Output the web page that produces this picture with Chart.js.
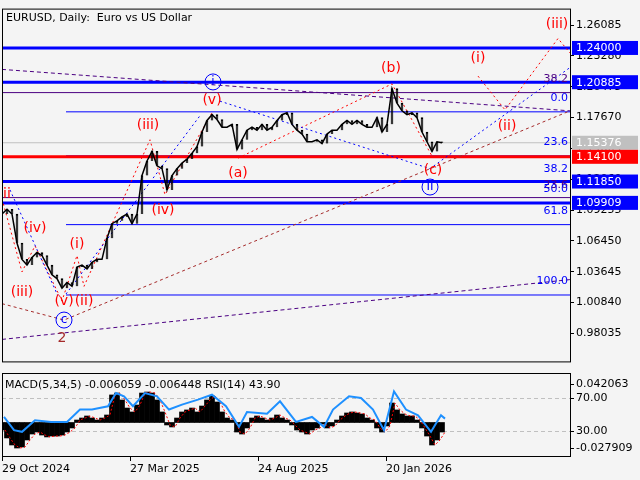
<!DOCTYPE html>
<html>
<head>
<meta charset="utf-8">
<script src="https://cdn.jsdelivr.net/npm/chart.js@4"></script>
<style>
  body { margin:0; background:#f4f4f4; width:640px; height:480px; overflow:hidden; position:relative; font-family:"DejaVu Sans",sans-serif; }
  canvas { position:absolute; left:0; }
  #main { top:0; }
  #ind { top:370px; }
</style>
</head>
<body>
<canvas id="main" width="640" height="370"></canvas>
<canvas id="ind" width="640" height="110"></canvas>
<script>
// ─── Data ─────────────────────────────────────────────────────
// x is bar offset (one unit ~ one screen column), closes sampled every 5 units
const closeStep = 5;
const closes = [1.0889,1.0933,1.0889,1.0626,1.0477,1.0425,1.0495,1.0539,1.0512,1.0425,
  1.0337,1.0302,1.0214,1.0267,1.0232,1.0407,1.0425,1.0390,1.0451,1.0477,
  1.0477,1.0670,1.0802,1.0828,1.0863,1.0889,1.0802,1.0889,1.1240,1.1372,
  1.1459,1.1328,1.1302,1.1109,1.1240,1.1302,1.1354,1.1389,1.1442,1.1503,
  1.1635,1.1740,1.1793,1.1749,1.1679,1.1679,1.1705,1.1477,1.1565,1.1652,
  1.1679,1.1652,1.1705,1.1652,1.1679,1.1740,1.1793,1.1810,1.1705,1.1652,
  1.1617,1.1547,1.1547,1.1565,1.1530,1.1617,1.1652,1.1652,1.1705,1.1740,
  1.1705,1.1740,1.1705,1.1679,1.1679,1.1766,1.1635,1.1705,1.2030,1.1898,
  1.1828,1.1793,1.1810,1.1766,1.1635,1.1547,1.1459,1.1547,1.1537];

const macdHist = [-0.0082,-0.0169,-0.0246,-0.0279,-0.0268,-0.0191,-0.0126,-0.0104,-0.0137,-0.0158,
  -0.0148,-0.0148,-0.0137,-0.0104,-0.0060,0.0027,0.0049,0.0071,0.0049,0.0027,
  0.0049,0.0082,0.0301,0.0322,0.0246,0.0158,0.0115,0.0191,0.0322,0.0333,
  0.0322,0.0246,0.0115,-0.0027,-0.0049,0.0049,0.0115,0.0137,0.0158,0.0115,
  0.0180,0.0246,0.0290,0.0224,0.0115,0.0049,0.0027,-0.0104,-0.0126,-0.0060,
  0.0049,0.0071,0.0049,0.0027,0.0049,0.0082,0.0049,0.0027,-0.0027,-0.0082,
  -0.0104,-0.0126,-0.0082,-0.0060,-0.0016,-0.0060,-0.0038,0.0027,0.0071,0.0104,
  0.0115,0.0104,0.0093,0.0049,0.0027,-0.0060,-0.0104,-0.0038,0.0213,0.0137,
  0.0093,0.0071,0.0071,0.0027,-0.0060,-0.0148,-0.0246,-0.0191,-0.0104];

const rsiX = [2,12,20,33,49,65,78,90,106,114,122,131,143,155,167,180,196,210,224,237,
  245,265,278,294,310,322,331,347,359,371,382,392,404,416,429,439,443];
const rsiY = [47,31,29,43,41,41,56,56,60,76,72,60,76,72,56,62,68,74,60,35,
  53,51,66,41,47,35,56,72,70,56,31,78,56,49,29,49,45];

const priceTicks = [0.98035,1.00840,1.03645,1.06450,1.09255,1.12060,1.14865,1.17670,1.20475,1.23280,1.26085];
const dateTicks = [0, 128, 256, 384];
const dateLabels = ['29 Oct 2024', '27 Mar 2025', '24 Aug 2025', '20 Jan 2026'];

// horizontal levels: [price, colour, width, startX]
const levels = [
  [1.24000,'#0000ff',3,0],[1.20885,'#0000ff',3,0],[1.19940,'#4b0082',1,0],
  [1.18190,'#0000ff',1,64],[1.15376,'#c0c0c0',1,0],[1.14100,'#ff0000',3,0],
  [1.14190,'#0000ff',1,64],[1.11850,'#0000ff',3,0],[1.10390,'#4b0082',1,0],
  [1.09909,'#0000ff',3,0],[1.07930,'#0000ff',1,64],[1.01530,'#0000ff',1,64]];
const priceBoxes = [[1.24000,'#0000ff'],[1.20885,'#0000ff'],[1.15376,'#c0c0c0'],
  [1.14100,'#ff0000'],[1.11850,'#0000ff'],[1.09909,'#0000ff']];
const fibLabels = [['38.2',1.2056,'#4b0082'],['0.0',1.1880,'#0000ff'],['23.6',1.1477,'#0000ff'],
  ['38.2',1.1238,'#0000ff'],['23.6',1.1091,'#4b0082'],['50.0',1.1056,'#0000ff'],
  ['61.8',1.0854,'#0000ff'],['100.0',1.0214,'#0000ff']];

// trend / wave lines: [points [[x,price]...], colour, dash]
const trendLines = [
  [[[0,1.2205],[568,1.1828]],'#4b0082',[4,3]],
  [[[0,0.9749],[568,1.0293]],'#4b0082',[4,3]],
  [[[0,1.0074],[62,0.9925],[568,1.1828]],'#a52a2a',[3,3]],
  [[[8,1.1109],[56,1.0144]],'#0000ff',[2,3]],
  [[[64,1.0162],[198,1.1784]],'#0000ff',[2,3]],
  [[[218,1.1916],[428,1.1302],[568,1.2222]],'#0000ff',[2,3]],
  [[[0,1.1027],[20,1.0363],[33,1.0600],[60,1.0100],[75,1.0512],[82,1.0232],[148,1.1565],[163,1.1065],[210,1.1810]],'#ff0000',[2,3]],
  [[[236,1.1398],[390,1.2073],[430,1.1416]],'#ff0000',[2,3]],
  [[[476,1.2144],[503,1.1837],[556,1.2486],[568,1.2354]],'#ff0000',[2,3]]];

// wave labels: [text, x, price, kind]
const waveLabels = [
  ['ii',5,1.1065,'red'],['(iv)',33,1.0758,'red'],['(iii)',20,1.0179,'red'],['(i)',75,1.0618,'red'],
  ['(v)',62,1.0091,'red'],['(ii)',82,1.0091,'red'],['(iii)',146,1.1696,'red'],['(iv)',161,1.0924,'red'],
  ['(v)',210,1.1924,'red'],['(a)',236,1.1258,'red'],['(b)',389,1.2214,'red'],['(c)',431,1.1284,'red'],
  ['(i)',476,1.2301,'red'],['(ii)',505,1.1688,'red'],['(iii)',555,1.2617,'red'],
  ['i',211,1.2091,'circle'],['II',428,1.1135,'circle'],['c',62,0.9925,'circle'],['2',60,0.9758,'brown']];

// ─── Helpers ──────────────────────────────────────────────────
const FONT = '"DejaVu Sans", sans-serif';
const xs = closes.map((_, i) => i * closeStep);

const framePlugin = {
  id: 'frame',
  afterDraw(chart) {
    const { ctx, chartArea: a } = chart;
    ctx.save();
    ctx.strokeStyle = '#000'; ctx.lineWidth = 1;
    ctx.strokeRect(a.left + 0.5, a.top + 0.5, a.right - a.left, a.bottom - a.top);
    ctx.restore();
  },
};

const overlayPlugin = {
  id: 'overlay',
  afterDatasetsDraw(chart) {
    const { ctx, scales: { x, y }, chartArea: a } = chart;
    ctx.save();
    ctx.textBaseline = 'middle';
    ctx.font = '11px ' + FONT; ctx.textAlign = 'right';
    fibLabels.forEach(([t, p, c]) => { ctx.fillStyle = c; ctx.fillText(t, a.right - 2, y.getPixelForValue(p) - 7); });
    waveLabels.forEach(([t, px, p, kind]) => {
      const cx = x.getPixelForValue(px), cy = y.getPixelForValue(p);
      ctx.textAlign = 'center';
      if (kind === 'circle') {
        ctx.strokeStyle = '#0000ff'; ctx.lineWidth = 1;
        ctx.beginPath(); ctx.arc(cx, cy, 8, 0, Math.PI * 2); ctx.stroke();
        ctx.font = '12px ' + FONT; ctx.fillStyle = '#0000ff'; ctx.fillText(t, cx, cy);
      } else {
        ctx.font = '14px ' + FONT;
        ctx.fillStyle = kind === 'brown' ? '#a52a2a' : '#ff0000';
        ctx.fillText(t, cx, cy);
      }
    });
    ctx.restore();
  },
  afterDraw(chart) {
    const { ctx, scales: { y }, chartArea: a } = chart;
    ctx.save();
    ctx.font = '11px ' + FONT; ctx.textAlign = 'left'; ctx.textBaseline = 'middle';
    ctx.fillStyle = '#000';
    ctx.fillText('EURUSD, Daily:  Euro vs US Dollar', a.left + 4, a.top + 10);
    priceBoxes.forEach(([p, c]) => {
      const py = y.getPixelForValue(p);
      ctx.fillStyle = c; ctx.fillRect(a.right + 2, py - 7, 66, 14);
      ctx.fillStyle = '#fff'; ctx.fillText(p.toFixed(5), a.right + 6, py + 0.5);
    });
    ctx.restore();
  },
};

// ─── Main price chart ─────────────────────────────────────────
const mainDatasets = [];
levels.forEach(([p, c, w, sx]) => mainDatasets.push({
  type: 'line', data: [{ x: sx, y: p }, { x: 568, y: p }],
  borderColor: c, borderWidth: w, pointRadius: 0, order: 5,
}));
trendLines.forEach(([pts, c, dash]) => mainDatasets.push({
  type: 'line', data: pts.map(([px, p]) => ({ x: px, y: p })),
  borderColor: c, borderWidth: 1, borderDash: dash, pointRadius: 0, order: 4,
}));
mainDatasets.push({
  type: 'line', data: closes.map((c, i) => ({ x: xs[i], y: c })),
  borderColor: '#000', borderWidth: 1.5, pointRadius: 0, tension: 0, order: 1,
});
mainDatasets.push({
  type: 'bar', data: closes.map((c, i) => ({ x: xs[i], y: [i ? closes[i - 1] : c, c] })),
  backgroundColor: '#000', borderColor: '#000', borderWidth: 1,
  barThickness: 2, order: 0,
});

new Chart(document.getElementById('main'), {
  data: { datasets: mainDatasets },
  options: {
    responsive: false, animation: false, devicePixelRatio: 1,
    layout: { padding: { left: 2, top: 2, bottom: 2, right: 0 } },
    plugins: { legend: { display: false }, tooltip: { enabled: false } },
    scales: {
      x: { type: 'linear', min: 0, max: 568, offset: false, display: false },
      y: {
        position: 'right', min: 0.9549, max: 1.2758,
        afterBuildTicks: s => { s.ticks = priceTicks.map(v => ({ value: v })); },
        afterFit: s => { s.width = 70; },
        grid: { drawOnChartArea: false, tickLength: 4, color: '#000' },
        border: { display: false },
        ticks: { color: '#000', font: { family: FONT, size: 11 }, padding: 2, callback: v => v.toFixed(5) },
      },
    },
  },
  plugins: [framePlugin, overlayPlugin],
});

// ─── Indicator panel (MACD + RSI) ─────────────────────────────
const indOverlay = {
  id: 'indOverlay',
  beforeDatasetsDraw(chart) {
    const { ctx, scales: { rsi }, chartArea: a } = chart;
    ctx.save();
    ctx.strokeStyle = '#c0c0c0'; ctx.setLineDash([4, 3]);
    [70, 30].forEach(v => {
      const py = Math.round(rsi.getPixelForValue(v)) + 0.5;
      ctx.beginPath(); ctx.moveTo(a.left, py); ctx.lineTo(a.right, py); ctx.stroke();
    });
    ctx.restore();
  },
  afterDraw(chart) {
    const { ctx, scales: { y, rsi }, chartArea: a } = chart;
    ctx.save();
    ctx.font = '11px ' + FONT; ctx.fillStyle = '#000'; ctx.textBaseline = 'middle';
    ctx.fillText('MACD(5,34,5) -0.006059 -0.006448 RSI(14) 43.90', a.left + 3, a.top + 12);
    [[y, 0.042063, '0.042063'], [rsi, 70, '70.00'], [rsi, 30, '30.00'], [y, -0.027909, '-0.027909']].forEach(([s, v, t]) => {
      const py = s.getPixelForValue(v);
      ctx.fillRect(a.right, Math.round(py), 4, 1);
      ctx.fillText(t, a.right + 6, py);
    });
    ctx.restore();
  },
};

new Chart(document.getElementById('ind'), {
  data: {
    datasets: [
      { type: 'line', yAxisID: 'rsi', data: rsiX.map((v, i) => ({ x: v, y: rsiY[i] })),
        borderColor: '#1e90ff', borderWidth: 2, pointRadius: 0, order: 0 },
      { type: 'line', yAxisID: 'y', data: macdHist.map((v, i) => ({ x: xs[i] + 3, y: v })),
        borderColor: '#ff0000', borderWidth: 1, borderDash: [2, 2], pointRadius: 0, order: 1 },
      { type: 'bar', yAxisID: 'y', data: macdHist.map((v, i) => ({ x: xs[i], y: v })),
        backgroundColor: '#000', barPercentage: 1, categoryPercentage: 1, order: 2 },
    ],
  },
  options: {
    responsive: false, animation: false, devicePixelRatio: 1,
    layout: { padding: { left: 2, top: 3, right: 70, bottom: 0 } },
    plugins: { legend: { display: false }, tooltip: { enabled: false } },
    scales: {
      x: {
        type: 'linear', min: 0, max: 568, offset: false,
        afterBuildTicks: s => { s.ticks = dateTicks.map(v => ({ value: v })); },
        afterFit: s => { s.height = 24; },
        grid: { drawOnChartArea: false, tickLength: 5, color: '#000', offset: false },
        border: { display: false },
        ticks: { color: '#000', font: { family: FONT, size: 11 }, align: 'start', padding: 2,
          callback: (v) => dateLabels[dateTicks.indexOf(v)] || '' },
      },
      y: { type: 'linear', axis: 'y', min: -0.03662, max: 0.05409, display: false },
      rsi: { type: 'linear', axis: 'y', min: -0.3, max: 100.3, display: false },
    },
  },
  plugins: [framePlugin, indOverlay],
});
</script>
</body>
</html>
